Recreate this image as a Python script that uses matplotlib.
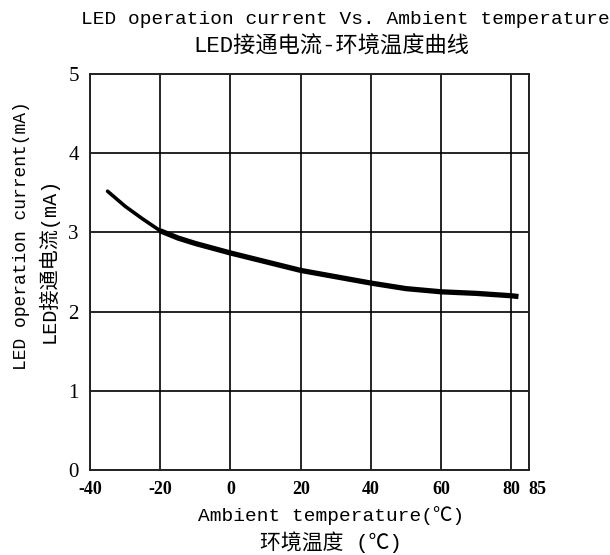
import matplotlib
matplotlib.use("Agg")
import matplotlib.pyplot as plt  # noqa: E402
import matplotlib.transforms as mtransforms  # noqa: E402

# values
temps = [-35, -30, -25, -20, -15, -10, 0, 10, 20, 30, 40, 50, 60, 70, 80, 82]
current = [3.52, 3.33, 3.17, 3.02, 2.93, 2.86, 2.74, 2.63, 2.52, 2.44,
           2.36, 2.29, 2.25, 2.23, 2.20, 2.19]
x_ticks = [-40, -20, 0, 20, 40, 60, 80, 85]
y_ticks = [0, 1, 2, 3, 4, 5]

MONO_CJK = ["Liberation Mono", "Noto Sans CJK SC", "DejaVu Sans"]

fig = plt.figure(figsize=(6.1, 5.55), dpi=100)
ax = fig.add_axes([90 / 610, 1 - 470 / 555, 439 / 610, 396 / 555])

# the curve is drawn thinner on the cold end, as in the original
ax.plot(temps[:4], current[:4], color="black", lw=2.6, solid_capstyle="round")
ax.plot(temps[3:], current[3:], color="black", lw=3.8, solid_capstyle="butt")

ax.set_xlim(-40, 85)
ax.set_ylim(0, 5)
ax.set_xticks(x_ticks)
ax.set_yticks(y_ticks)
ax.set_xticklabels([str(t) for t in x_ticks], family="Liberation Serif",
                   fontweight="bold", fontsize=13)
ax.set_yticklabels([str(t) for t in y_ticks], family="Liberation Serif",
                   fontsize=15)
ax.tick_params(length=0, pad=8)
ax.grid(True, color="black", lw=1.2)
for sp in ax.spines.values():
    sp.set_color("#222222")
    sp.set_linewidth(1.4)

# the "85" label sits a little to the right of the border
lab85 = ax.get_xticklabels()[-1]
lab85.set_transform(lab85.get_transform()
                    + mtransforms.ScaledTranslation(8 / 100, 0, fig.dpi_scale_trans))

fig.text(345 / 610, 1 - 20 / 555, "LED operation current Vs. Ambient temperature",
         ha="center", va="center", fontsize=14, family=MONO_CJK)
fig.text(331 / 610, 1 - 47 / 555, "LED接通电流-环境温度曲线",
         ha="center", va="center", fontsize=16, family=MONO_CJK)

fig.text(22 / 610, 1 - 236 / 555, "LED operation current(mA)", rotation=90,
         ha="center", va="center", fontsize=13, family=MONO_CJK)
fig.text(48 / 610, 1 - 260 / 555, "LED接通电流(mA)", rotation=90,
         ha="center", va="center", fontsize=14.5, family=MONO_CJK)

fig.text(331 / 610, 1 - 516 / 555, "Ambient temperature(℃)",
         ha="center", va="center", fontsize=14, family=MONO_CJK)
fig.text(331 / 610, 1 - 542 / 555, "环境温度 (℃)",
         ha="center", va="center", fontsize=15, family=MONO_CJK)

fig.savefig("out.png", dpi=100)
plt.close(fig)
